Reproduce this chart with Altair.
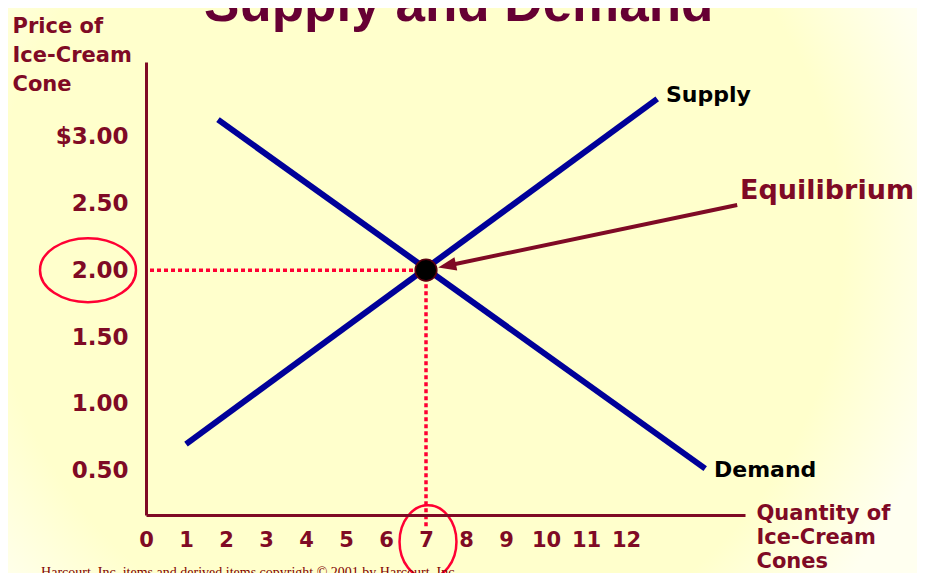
import altair as alt
import pandas as pd

# ---------------- data ----------------
quantity_ticks = [0, 1, 2, 3, 4, 5, 6, 7, 8, 9, 10, 11, 12]
price_ticks = [0.5, 1.0, 1.5, 2.0, 2.5, 3.0]

supply_quantity = [1.0, 12.78]
supply_price = [0.70, 3.28]
demand_quantity = [1.8, 13.98]
demand_price = [3.125, 0.517]

equilibrium_quantity = [7]
equilibrium_price = [2.0]

curve_labels = ["Supply", "Demand"]
curve_label_quantity = [13.0, 14.2]
curve_label_price = [3.31, 0.507]

equilibrium_label = ["Equilibrium"]
equilibrium_label_quantity = [14.85]
equilibrium_label_price = [2.59]

arrow_start_quantity = [14.78]
arrow_start_price = [2.487]
arrow_head_quantity = [7.526]
arrow_head_price = [2.033]

title_text = ["Supply and Demand"]
title_quantity = [1.45]
title_price = [3.862]

copyright_text = ["Harcourt, Inc. items and derived items copyright \u00a9 2001 by Harcourt, Inc."]
copyright_quantity = [7.8]
copyright_price = [-0.29]

y_title = ["Price of", "Ice-Cream", "Cone"]
x_title = ["Quantity of", "Ice-Cream", "Cones"]

# highlighted tick labels (circled): the price 2.00 and the quantity 7
circle_price_pos = {"q": [-1.45], "p": [2.0]}
circle_quantity_pos = {"q": [7.05], "p": [-0.03]}

# ---------------- styling ----------------
MAROON = "#7F0A25"
TITLE_COL = "#660033"
NAVY = "#000099"
RED = "#FF0033"
FONT = "DejaVu Sans"

W, H = 599, 453
PAD = {"left": 138, "top": 54, "right": 172, "bottom": 58}

xs = alt.Scale(domain=[0, 14.975], nice=False, zero=False)
ys = alt.Scale(domain=[0.17, 3.556], nice=False, zero=False)

x_axis = alt.Axis(
    values=quantity_ticks, format="d", grid=False, ticks=False, tickSize=0,
    domainColor=MAROON, domainWidth=3, zindex=1,
    labelFont=FONT, labelFontWeight="bold", labelFontSize=21, labelColor=MAROON,
    labelPadding=14, labelFlush=False, labelOverlap=False,
    title=x_title, titleFont=FONT, titleFontWeight="bold", titleFontSize=21,
    titleColor=MAROON, titleAngle=0, titleAlign="left", titleBaseline="alphabetic",
    titleX=610, titleY=4, titleLineHeight=24,
)
y_axis = alt.Axis(
    values=price_ticks, grid=False, ticks=False, tickSize=0,
    domainColor=MAROON, domainWidth=3, zindex=1,
    labelExpr="datum.value == 3 ? '$3.00' : format(datum.value, '.2f')",
    labelFont=FONT, labelFontWeight="bold", labelFontSize=23, labelColor=MAROON,
    labelPadding=18, labelFlush=False, labelOverlap=False,
    title=y_title, titleFont=FONT, titleFontWeight="bold", titleFontSize=21,
    titleColor=MAROON, titleAngle=0, titleAlign="left", titleBaseline="alphabetic",
    titleX=-134, titleY=-30, titleLineHeight=29,
)


def X(field="q"):
    return alt.X(f"{field}:Q", scale=xs, axis=x_axis)


def Y(field="p"):
    return alt.Y(f"{field}:Q", scale=ys, axis=y_axis)


# ---------------- background ----------------
bg_grad = alt.RadialGradient(
    gradient="radial", x1=0.45, y1=0.45, x2=0.45, y2=0.45, r1=0, r2=0.6,
    stops=[
        alt.GradientStop(offset=0, color="#FFFFCC"),
        alt.GradientStop(offset=0.78, color="#FFFFCC"),
        alt.GradientStop(offset=1, color="#FFFFF0"),
    ],
)
background = alt.Chart(pd.DataFrame({"a": [0]})).mark_rect(fill=bg_grad).encode(
    x=alt.value(-PAD["left"]), x2=alt.value(W + PAD["right"]),
    y=alt.value(-PAD["top"]), y2=alt.value(H + PAD["bottom"]),
)

# ---------------- dotted guides ----------------
guide_df = pd.DataFrame({
    "q": [0.1, equilibrium_quantity[0]],
    "p": [equilibrium_price[0], equilibrium_price[0]],
    "q2": [equilibrium_quantity[0], equilibrium_quantity[0]],
    "p2": [equilibrium_price[0], 0.08],
})
guides = alt.Chart(guide_df).mark_rule(color=RED, strokeWidth=3.5, strokeDash=[4, 3]).encode(
    x=X(), y=Y(), x2="q2:Q", y2="p2:Q"
)

# ---------------- supply & demand ----------------
line_df = pd.DataFrame({
    "curve": ["Supply"] * 2 + ["Demand"] * 2,
    "q": supply_quantity + demand_quantity,
    "p": supply_price + demand_price,
})
curves = alt.Chart(line_df).mark_line(color=NAVY, strokeWidth=6, strokeCap="butt").encode(
    x=X(), y=Y(), detail="curve:N"
)

# ---------------- arrow ----------------
arrow_df = pd.DataFrame({
    "q": arrow_start_quantity, "p": arrow_start_price,
    "q2": arrow_head_quantity, "p2": arrow_head_price,
})
arrow_line = alt.Chart(arrow_df).mark_rule(color=MAROON, strokeWidth=4).encode(
    x=X(), y=Y(), x2="q2:Q", y2="p2:Q"
)
arrow_head = alt.Chart(pd.DataFrame({"q": arrow_head_quantity, "p": arrow_head_price})).mark_point(
    shape="M 0 -1 L 0.75 1 L -0.75 1 Z", filled=True, color=MAROON, size=324, angle=258.2, opacity=1
).encode(x=X(), y=Y())

# ---------------- equilibrium dot ----------------
dot = alt.Chart(pd.DataFrame({"q": equilibrium_quantity, "p": equilibrium_price})).mark_point(
    shape="circle", filled=True, fill="#000000", stroke="#5A0010", strokeWidth=1.5, size=470, opacity=1
).encode(x=X(), y=Y())

# ---------------- red ellipses ----------------
ell1 = alt.Chart(pd.DataFrame(circle_price_pos)).mark_point(
    shape="M -1 0 A 1 0.667 0 1 1 1 0 A 1 0.667 0 1 1 -1 0 Z",
    filled=False, stroke=RED, strokeWidth=2.5, size=9216, opacity=1
).encode(x=X(), y=Y())
ell2 = alt.Chart(pd.DataFrame(circle_quantity_pos)).mark_point(
    shape="M 0 -1 A 0.78 1 0 1 1 0 1 A 0.78 1 0 1 1 0 -1 Z",
    filled=False, stroke=RED, strokeWidth=2.5, size=5329, opacity=1
).encode(x=X(), y=Y())

# ---------------- texts ----------------
curve_text = alt.Chart(pd.DataFrame({
    "t": curve_labels, "q": curve_label_quantity, "p": curve_label_price
})).mark_text(align="left", baseline="middle", font=FONT, fontWeight="bold", fontSize=22,
              color="#000000").encode(x=X(), y=Y(), text="t:N")

eq_text = alt.Chart(pd.DataFrame({
    "t": equilibrium_label, "q": equilibrium_label_quantity, "p": equilibrium_label_price
})).mark_text(align="left", baseline="middle", font=FONT, fontWeight="bold", fontSize=27,
              color=MAROON).encode(x=X(), y=Y(), text="t:N")

title = alt.Chart(pd.DataFrame({
    "t": title_text, "q": title_quantity, "p": title_price
})).mark_text(align="left", baseline="alphabetic", font="Liberation Sans", fontWeight="bold",
              fontSize=53, color=TITLE_COL).encode(x=X(), y=Y(), text="t:N")

copyright = alt.Chart(pd.DataFrame({
    "t": copyright_text, "q": copyright_quantity, "p": copyright_price
})).mark_text(align="right", baseline="alphabetic", font="Liberation Serif", fontSize=14,
              color="#800000").encode(x=X(), y=Y(), text="t:N")

chart = alt.layer(
    background, guides, curves, arrow_line, arrow_head, dot, ell1, ell2,
    curve_text, eq_text, title, copyright,
).properties(
    width=W, height=H, padding=PAD,
    autosize=alt.AutoSizeParams(type="none"),
    background="#FFFFE8",
).configure_view(stroke=None)

chart.save("out.html", embed_options={"renderer": "svg", "actions": False})
